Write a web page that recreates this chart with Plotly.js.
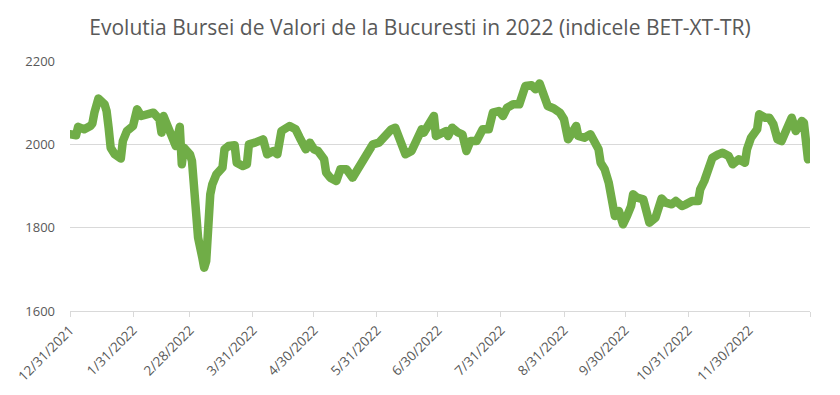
<!DOCTYPE html>
<html>
<head>
<meta charset="utf-8">
<script src="https://cdn.plot.ly/plotly-3.0.1.min.js"></script>
<style>html,body{margin:0;padding:0;background:#fff;}#chart{width:840px;height:395px;}</style>
</head>
<body>
<div id="chart"></div>
<script>
var dates = [
"2021-12-31","2022-01-03","2022-01-04","2022-01-07","2022-01-10","2022-01-11","2022-01-12","2022-01-14","2022-01-17","2022-01-18",
"2022-01-19","2022-01-20","2022-01-22","2022-01-25","2022-01-26","2022-01-28","2022-01-31","2022-02-01","2022-02-02","2022-02-04",
"2022-02-07","2022-02-10","2022-02-13","2022-02-14","2022-02-15","2022-02-17","2022-02-18","2022-02-21","2022-02-23","2022-02-24",
"2022-02-25","2022-02-28","2022-03-01","2022-03-02","2022-03-03","2022-03-04","2022-03-06","2022-03-07","2022-03-08","2022-03-09",
"2022-03-10","2022-03-11","2022-03-13","2022-03-16","2022-03-17","2022-03-19","2022-03-22","2022-03-23","2022-03-26","2022-03-28",
"2022-03-29","2022-04-01","2022-04-05","2022-04-07","2022-04-10","2022-04-12","2022-04-14","2022-04-18","2022-04-21","2022-04-23",
"2022-04-26","2022-04-28","2022-04-30","2022-05-02","2022-05-05","2022-05-06","2022-05-08","2022-05-11","2022-05-13","2022-05-16",
"2022-05-19","2022-05-21","2022-05-24","2022-05-26","2022-05-29","2022-06-01","2022-06-03","2022-06-07","2022-06-09","2022-06-11",
"2022-06-14","2022-06-17","2022-06-20","2022-06-22","2022-06-23","2022-06-26","2022-06-28","2022-06-29","2022-07-01","2022-07-04",
"2022-07-05","2022-07-07","2022-07-10","2022-07-12","2022-07-14","2022-07-16","2022-07-19","2022-07-22","2022-07-25","2022-07-27",
"2022-07-30","2022-08-01","2022-08-03","2022-08-06","2022-08-09","2022-08-11","2022-08-12","2022-08-15","2022-08-17","2022-08-19",
"2022-08-20","2022-08-23","2022-08-26","2022-08-29","2022-08-31","2022-09-01","2022-09-02","2022-09-03","2022-09-06","2022-09-07",
"2022-09-10","2022-09-13","2022-09-15","2022-09-17","2022-09-18","2022-09-20","2022-09-22","2022-09-23","2022-09-25","2022-09-27",
"2022-09-29","2022-10-01","2022-10-03","2022-10-04","2022-10-06","2022-10-09","2022-10-10","2022-10-12","2022-10-15","2022-10-17",
"2022-10-18","2022-10-20","2022-10-23","2022-10-25","2022-10-28","2022-10-30","2022-11-02","2022-11-05","2022-11-06","2022-11-08",
"2022-11-10","2022-11-12","2022-11-15","2022-11-17","2022-11-20","2022-11-22","2022-11-25","2022-11-28","2022-11-29","2022-12-01",
"2022-12-04","2022-12-05","2022-12-08","2022-12-10","2022-12-12","2022-12-14","2022-12-16","2022-12-18","2022-12-21","2022-12-23",
"2022-12-26","2022-12-27","2022-12-28","2022-12-29","2022-12-30"
];
var betxttr = [
2024,2022,2042,2036,2044,2050,2076,2110,2096,2080,
2040,1992,1976,1966,2008,2032,2044,2076,2084,2068,
2070,2076,2060,2028,2068,2044,2024,1996,2042,1952,
1992,1976,1960,1872,1866,1776,1730,1704,1720,1856,
1880,1904,1928,1944,1988,1996,1998,1956,1948,1952,
2000,2004,2012,1976,1984,1976,2032,2044,2036,2016,
1988,2004,1988,1984,1964,1932,1920,1912,1940,1940,
1920,1936,1960,1980,2000,2004,2016,2036,2040,2012,
1976,1984,2024,2036,2028,2052,2068,2020,2024,2032,
2020,2040,2028,2024,1984,2008,2008,2036,2036,2076,
2080,2068,2088,2096,2096,2124,2140,2142,2132,2146,
2132,2092,2086,2076,2060,2036,2012,2020,2044,2020,
2016,2024,2008,1988,1956,1940,1908,1876,1828,1840,
1808,1828,1852,1880,1872,1868,1844,1812,1824,1848,
1870,1860,1856,1864,1852,1856,1864,1864,1892,1912,
1948,1968,1976,1980,1972,1952,1964,1956,1988,2016,
2036,2072,2064,2064,2048,2012,2008,2032,2064,2032,
2056,2052,1984,1964,1972
];
var tickDates = ["2021-12-31","2022-01-31","2022-02-28","2022-03-31","2022-04-30","2022-05-31","2022-06-30","2022-07-31","2022-08-31","2022-09-30","2022-10-31","2022-11-30","2022-12-30"];
var tickLabels = ["12/31/2021","1/31/2022","2/28/2022","3/31/2022","4/30/2022","5/31/2022","6/30/2022","7/31/2022","8/31/2022","9/30/2022","10/31/2022","11/30/2022",""];
var titleText = "Evolutia Bursei de Valori de la Bucuresti in 2022 (indicele BET-XT-TR)";

var trace = {
  x: dates, y: betxttr, type: "scatter", mode: "lines",
  line: {color: "#70AD47", width: 8.5, shape: "linear"},
  hoverinfo: "x+y"
};
var layout = {
  width: 840, height: 395,
  margin: {l: 70, r: 30, t: 61, b: 84},
  paper_bgcolor: "#ffffff", plot_bgcolor: "#ffffff",
  showlegend: false,
  font: {family: "Open Sans, Liberation Sans, sans-serif", color: "#595959", size: 13},
  title: {text: titleText, x: 0.5, xanchor: "center", y: 0.93, yanchor: "middle",
          font: {family: "Open Sans, sans-serif", size: 21, color: "#595959"}},
  xaxis: {
    type: "date", range: ["2021-12-31", "2022-12-30"],
    tickmode: "array", tickvals: tickDates, ticktext: tickLabels,
    tickangle: -45, ticks: "outside", ticklen: 5, tickcolor: "#D9D9D9", tickwidth: 1,
    showgrid: false, showline: true, linecolor: "#D9D9D9", linewidth: 1,
    zeroline: false, tickfont: {size: 13.5, color: "#595959"}
  },
  yaxis: {
    range: [1600, 2200], tickmode: "array", tickvals: [1600, 1800, 2000, 2200],
    ticktext: ["1600","1800","2000","2200"],
    showgrid: true, gridcolor: "#D9D9D9", gridwidth: 1,
    showline: false, zeroline: false, ticks: "", ticklabelstandoff: 14,
    tickfont: {size: 13, color: "#595959"}
  }
};
Plotly.newPlot("chart", [trace], layout, {displayModeBar: false, staticPlot: true}).then(function(){
  var p = document.querySelector("#chart .scatterlayer path.js-line");
  if (p) { p.style.strokeLinejoin = "round"; p.style.strokeLinecap = "round"; }
});
</script>
</body>
</html>
